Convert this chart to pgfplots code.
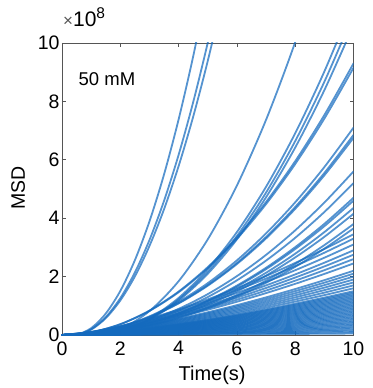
\documentclass[border=0pt]{standalone}
\usepackage{fontspec}
\setmainfont{Liberation Sans}
\usepackage{pgfplots}
\pgfplotsset{compat=1.18}
\definecolor{msd}{RGB}{20,106,190}
\definecolor{axgray}{RGB}{85,85,85}
\pgfplotsset{c/.style={draw=msd, draw opacity=0.72, line width=1.8pt, line join=round, line cap=round, mark=none, smooth}}
\begin{document}
\begin{tikzpicture}
\useasboundingbox (-62pt,-53pt) rectangle (310pt,335pt);
\begin{axis}[
  at={(0,0)}, anchor=south west,
  width=291.5pt, height=292pt, scale only axis,
  xmin=0, xmax=10, ymin=0, ymax=10,
  xtick={0,2,4,6,8,10}, ytick={0,2,4,6,8,10},
  tick align=inside, major tick length=4pt,
  axis line style={axgray, line width=0.8pt},
  tick style={axgray, line width=0.8pt},
  tick label style={font=\fontsize{19.5}{19.5}\selectfont, /pgf/number format/assume math mode=true},
  xticklabel style={yshift=-3pt},
  yticklabel style={xshift=1pt},
  clip mode=individual,
]
% steep curves
\addplot[c] coordinates {(0,0)(0.5,0.0125)(1,0.234)(1.5,0.733)(2,1.508)(2.5,2.561)(3,3.89)(3.5,5.497)(4,7.381)(4.5,9.541)(5,11.98)};
\addplot[c] coordinates {(0,0)(0.5,0.0104)(1,0.196)(1.5,0.612)(2,1.261)(2.5,2.14)(3,3.251)(3.5,4.594)(4,6.168)(4.5,7.974)(5,10.011)(5.5,12.28)};
\addplot[c] coordinates {(0,0)(0.5,0.0098)(1,0.183)(1.5,0.574)(2,1.182)(2.5,2.006)(3,3.048)(3.5,4.306)(4,5.782)(4.5,7.475)(5,9.384)(5.5,11.51)};
% curves leaving through the top
\addplot[c] coordinates {(0,0)(1,0.01)(2,0.205)(3,0.819)(4,1.842)(5,3.275)(6,5.118)(7,7.369)(8,10.03)(9,13.1)};
\addplot[c] coordinates {(0,0)(1,0.01)(2,0.141)(3,0.564)(4,1.269)(5,2.256)(6,3.525)(7,5.076)(8,6.909)(9,9.024)(10,11.42)};
\addplot[c] coordinates {(0,0)(1,0.01)(2,0.1355)(3,0.542)(4,1.22)(5,2.168)(6,3.388)(7,4.878)(8,6.64)(9,8.672)(10,10.98)};
\addplot[c] coordinates {(0,0)(1,0.01)(2,0.131)(3,0.524)(4,1.179)(5,2.096)(6,3.275)(7,4.716)(8,6.419)(9,8.384)(10,10.61)};
% middle fan
\addplot[c] coordinates {(0,0)(1,0.093)(2,0.372)(3,0.837)(4,1.488)(5,2.325)(6,3.348)(7,4.557)(8,5.952)(9,7.533)(10,9.3)};
\addplot[c] coordinates {(0,0)(1,0.0915)(2,0.366)(3,0.8235)(4,1.464)(5,2.2875)(6,3.294)(7,4.4835)(8,5.856)(9,7.4115)(10,9.15)};
\addplot[c] coordinates {(0,0)(1,0.071)(2,0.284)(3,0.639)(4,1.136)(5,1.775)(6,2.556)(7,3.479)(8,4.544)(9,5.751)(10,7.1)};
\addplot[c] coordinates {(0,0)(1,0.0685)(2,0.274)(3,0.6165)(4,1.096)(5,1.7125)(6,2.466)(7,3.3565)(8,4.384)(9,5.5485)(10,6.85)};
\addplot[c] coordinates {(0,0)(1,0.0675)(2,0.27)(3,0.6075)(4,1.08)(5,1.6875)(6,2.43)(7,3.3075)(8,4.32)(9,5.4675)(10,6.75)};
\addplot[c] coordinates {(0,0)(1,0.056)(2,0.224)(3,0.504)(4,0.896)(5,1.4)(6,2.016)(7,2.744)(8,3.584)(9,4.536)(10,5.6)};
\addplot[c] coordinates {(0,0)(1,0.052)(2,0.208)(3,0.468)(4,0.832)(5,1.3)(6,1.872)(7,2.548)(8,3.328)(9,4.212)(10,5.2)};
\addplot[c] coordinates {(0,0)(1,0.047)(2,0.188)(3,0.423)(4,0.752)(5,1.175)(6,1.692)(7,2.303)(8,3.008)(9,3.807)(10,4.7)};
\addplot[c] coordinates {(0,0)(1,0.046)(2,0.184)(3,0.414)(4,0.736)(5,1.15)(6,1.656)(7,2.254)(8,2.944)(9,3.726)(10,4.6)};
\addplot[c] coordinates {(0,0)(1,0.0435)(2,0.174)(3,0.3915)(4,0.696)(5,1.0875)(6,1.566)(7,2.1315)(8,2.784)(9,3.5235)(10,4.35)};
\addplot[c] coordinates {(0,0)(1,0.0415)(2,0.166)(3,0.3735)(4,0.664)(5,1.0375)(6,1.494)(7,2.0335)(8,2.656)(9,3.3615)(10,4.15)};
\addplot[c] coordinates {(0,0)(1,0.038)(2,0.152)(3,0.342)(4,0.608)(5,0.95)(6,1.368)(7,1.862)(8,2.432)(9,3.078)(10,3.8)};
\addplot[c] coordinates {(0,0)(1,0.0365)(2,0.146)(3,0.3285)(4,0.584)(5,0.9125)(6,1.314)(7,1.7885)(8,2.336)(9,2.9565)(10,3.65)};
% lower fan
\addplot[c] coordinates {(0,0)(1,0.109)(2,0.308)(3,0.567)(4,0.873)(5,1.220)(6,1.604)(7,2.021)(8,2.468)(9,2.946)(10,3.45)};
\addplot[c] coordinates {(0,0)(1,0.104)(2,0.295)(3,0.542)(4,0.835)(5,1.167)(6,1.534)(7,1.933)(8,2.361)(9,2.818)(10,3.3)};
\addplot[c] coordinates {(0,0)(1,0.098)(2,0.277)(3,0.509)(4,0.784)(5,1.096)(6,1.441)(7,1.816)(8,2.218)(9,2.647)(10,3.1)};
\addplot[c] coordinates {(0,0)(1,0.092)(2,0.259)(3,0.476)(4,0.734)(5,1.025)(6,1.348)(7,1.699)(8,2.075)(9,2.476)(10,2.9)};
\addplot[c] coordinates {(0,0)(1,0.087)(2,0.246)(3,0.452)(4,0.696)(5,0.972)(6,1.278)(7,1.611)(8,1.968)(9,2.348)(10,2.75)};
\addplot[c] coordinates {(0,0)(1,0.082)(2,0.232)(3,0.427)(4,0.658)(5,0.919)(6,1.208)(7,1.523)(8,1.860)(9,2.220)(10,2.6)};
\addplot[c] coordinates {(0,0)(1,0.077)(2,0.219)(3,0.403)(4,0.620)(5,0.866)(6,1.139)(7,1.435)(8,1.753)(9,2.092)(10,2.45)};
\addplot[c] coordinates {(0,0)(1,0.070)(2,0.197)(3,0.361)(4,0.557)(5,0.778)(6,1.023)(7,1.289)(8,1.574)(9,1.878)(10,2.2)};
\addplot[c] coordinates {(0,0)(1,0.066)(2,0.188)(3,0.345)(4,0.531)(5,0.743)(6,0.976)(7,1.230)(8,1.503)(9,1.793)(10,2.1)};
\addplot[c] coordinates {(0,0)(1,0.063)(2,0.179)(3,0.329)(4,0.506)(5,0.707)(6,0.930)(7,1.171)(8,1.431)(9,1.708)(10,2.0)};
\addplot[c] coordinates {(0,0)(1,0.060)(2,0.170)(3,0.312)(4,0.481)(5,0.672)(6,0.883)(7,1.113)(8,1.359)(9,1.622)(10,1.9)};
\addplot[c] coordinates {(0,0)(1,0.057)(2,0.161)(3,0.296)(4,0.455)(5,0.636)(6,0.837)(7,1.054)(8,1.288)(9,1.537)(10,1.8)};
\addplot[c] coordinates {(0,0)(1,0.054)(2,0.152)(3,0.279)(4,0.430)(5,0.601)(6,0.790)(7,0.996)(8,1.216)(9,1.451)(10,1.7)};
\addplot[c] coordinates {(0,0)(1,0.051)(2,0.143)(3,0.263)(4,0.405)(5,0.566)(6,0.744)(7,0.937)(8,1.145)(9,1.366)(10,1.6)};
% dense band
\addplot[c] coordinates {(0,0)(1,0.047)(2,0.134)(3,0.246)(4,0.380)(5,0.530)(6,0.697)(7,0.879)(8,1.073)(9,1.281)(10,1.5)};
\addplot[c] coordinates {(0,0)(1,0.046)(2,0.130)(3,0.238)(4,0.367)(5,0.513)(6,0.674)(7,0.849)(8,1.037)(9,1.238)(10,1.45)};
\addplot[c] coordinates {(0,0)(1,0.044)(2,0.125)(3,0.230)(4,0.354)(5,0.495)(6,0.651)(7,0.820)(8,1.002)(9,1.195)(10,1.4)};
\addplot[c] coordinates {(0,0)(1,0.043)(2,0.121)(3,0.222)(4,0.342)(5,0.477)(6,0.627)(7,0.791)(8,0.966)(9,1.153)(10,1.35)};
\addplot[c] coordinates {(0,0)(1,0.041)(2,0.116)(3,0.214)(4,0.329)(5,0.460)(6,0.604)(7,0.761)(8,0.930)(9,1.110)(10,1.3)};
\addplot[c] coordinates {(0,0)(1,0.040)(2,0.112)(3,0.205)(4,0.316)(5,0.442)(6,0.581)(7,0.732)(8,0.894)(9,1.067)(10,1.25)};
\addplot[c] coordinates {(0,0)(1,0.038)(2,0.107)(3,0.197)(4,0.304)(5,0.424)(6,0.558)(7,0.703)(8,0.859)(9,1.025)(10,1.2)};
\addplot[c] coordinates {(0,0)(1,0.036)(2,0.103)(3,0.189)(4,0.291)(5,0.407)(6,0.535)(7,0.674)(8,0.823)(9,0.982)(10,1.15)};
\addplot[c] coordinates {(0,0)(1,0.035)(2,0.098)(3,0.181)(4,0.278)(5,0.389)(6,0.511)(7,0.644)(8,0.787)(9,0.939)(10,1.1)};
\addplot[c] coordinates {(0,0)(1,0.033)(2,0.094)(3,0.173)(4,0.266)(5,0.371)(6,0.488)(7,0.615)(8,0.751)(9,0.896)(10,1.05)};
\addplot[c] coordinates {(0,0)(1,0.032)(2,0.089)(3,0.164)(4,0.253)(5,0.354)(6,0.465)(7,0.586)(8,0.716)(9,0.854)(10,1.0)};
\addplot[c] coordinates {(0,0)(1,0.030)(2,0.085)(3,0.156)(4,0.240)(5,0.336)(6,0.442)(7,0.556)(8,0.680)(9,0.811)(10,0.95)};
\addplot[c] coordinates {(0,0)(1,0.028)(2,0.080)(3,0.148)(4,0.228)(5,0.318)(6,0.418)(7,0.527)(8,0.644)(9,0.768)(10,0.9)};
\addplot[c] coordinates {(0,0)(1,0.027)(2,0.076)(3,0.140)(4,0.215)(5,0.301)(6,0.395)(7,0.498)(8,0.608)(9,0.726)(10,0.85)};
\addplot[c] coordinates {(0,0)(1,0.025)(2,0.072)(3,0.131)(4,0.202)(5,0.283)(6,0.372)(7,0.469)(8,0.572)(9,0.683)(10,0.8)};
\addplot[c] coordinates {(0,0)(1,0.024)(2,0.067)(3,0.123)(4,0.190)(5,0.265)(6,0.349)(7,0.439)(8,0.537)(9,0.640)(10,0.75)};
\addplot[c] coordinates {(0,0)(1,0.022)(2,0.063)(3,0.115)(4,0.177)(5,0.248)(6,0.325)(7,0.410)(8,0.501)(9,0.598)(10,0.7)};
\addplot[c] coordinates {(0,0)(1,0.021)(2,0.058)(3,0.107)(4,0.164)(5,0.230)(6,0.302)(7,0.381)(8,0.465)(9,0.555)(10,0.65)};
\addplot[c] coordinates {(0,0)(1,0.019)(2,0.054)(3,0.099)(4,0.152)(5,0.212)(6,0.279)(7,0.351)(8,0.429)(9,0.512)(10,0.6)};
\addplot[c] coordinates {(0,0)(1,0.017)(2,0.049)(3,0.090)(4,0.139)(5,0.194)(6,0.256)(7,0.322)(8,0.394)(9,0.470)(10,0.55)};
\addplot[c] coordinates {(0,0)(1,0.016)(2,0.045)(3,0.082)(4,0.127)(5,0.177)(6,0.232)(7,0.293)(8,0.358)(9,0.427)(10,0.5)};
\addplot[c] coordinates {(0,0)(1,0.014)(2,0.040)(3,0.074)(4,0.114)(5,0.159)(6,0.209)(7,0.264)(8,0.322)(9,0.384)(10,0.45)};
\addplot[c] coordinates {(0,0)(1,0.013)(2,0.036)(3,0.066)(4,0.101)(5,0.141)(6,0.186)(7,0.234)(8,0.286)(9,0.342)(10,0.4)};
\addplot[c] coordinates {(0,0)(1,0.011)(2,0.031)(3,0.058)(4,0.089)(5,0.124)(6,0.163)(7,0.205)(8,0.250)(9,0.299)(10,0.35)};
\addplot[c] coordinates {(0,0)(1,0.009)(2,0.027)(3,0.049)(4,0.076)(5,0.106)(6,0.139)(7,0.176)(8,0.215)(9,0.256)(10,0.3)};
\addplot[c] coordinates {(0,0)(1,0.008)(2,0.022)(3,0.041)(4,0.063)(5,0.088)(6,0.116)(7,0.146)(8,0.179)(9,0.213)(10,0.25)};
\addplot[c] coordinates {(0,0)(1,0.006)(2,0.018)(3,0.033)(4,0.051)(5,0.071)(6,0.093)(7,0.117)(8,0.143)(9,0.171)(10,0.2)};
\addplot[c] coordinates {(0,0)(1,0.005)(2,0.013)(3,0.025)(4,0.038)(5,0.053)(6,0.070)(7,0.088)(8,0.107)(9,0.128)(10,0.15)};
\addplot[c] coordinates {(0,0)(1,0.003)(2,0.009)(3,0.016)(4,0.025)(5,0.035)(6,0.046)(7,0.059)(8,0.072)(9,0.085)(10,0.1)};
\addplot[c] coordinates {(0,0)(1,0.002)(2,0.004)(3,0.008)(4,0.013)(5,0.018)(6,0.023)(7,0.029)(8,0.036)(9,0.043)(10,0.05)};
% annotations
\node[anchor=base west, font=\fontsize{18.5}{18.5}\selectfont] at (axis cs:0.45,8.54) {50 mM};
\node[anchor=base west, inner sep=0pt] at ([yshift=16pt, xshift=1pt]rel axis cs:0,1) {\fontsize{21}{21}\selectfont{\fontsize{17}{17}\selectfont\textcolor{axgray}{×}}10\raisebox{8pt}{\fontsize{15.5}{15.5}\selectfont 8}};
\node[anchor=base, font=\fontsize{20}{20}\selectfont] at ([yshift=-45pt]rel axis cs:0.515,0) {Time(s)};
\node[anchor=base, rotate=90, font=\fontsize{19.5}{19.5}\selectfont] at ([xshift=-37pt]rel axis cs:0,0.503) {MSD};
\end{axis}
\end{tikzpicture}
\end{document}
